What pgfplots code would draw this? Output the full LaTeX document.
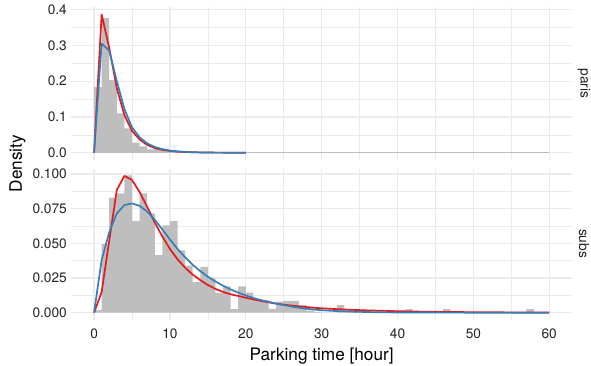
\documentclass[border=0pt]{standalone}
\usepackage{pgfplots}
\pgfplotsset{compat=1.18}
\usepackage{fontspec}
\setmainfont{TeX Gyre Heros}
\definecolor{histc}{HTML}{BEBEBE}
\definecolor{cred}{HTML}{E41A1C}
\definecolor{cblue}{HTML}{377EB8}
\definecolor{gridc}{HTML}{EBEBEB}
\definecolor{tickc}{HTML}{222222}

\pgfplotsset{
  panel/.style={
    scale only axis, width=500.7pt, xmin=-3, xmax=63,
    axis line style={draw=none}, tick style={draw=none},
    major tick length=0pt, minor tick length=0pt,
    xmajorgrids, ymajorgrids, xminorgrids, yminorgrids,
    major grid style={gridc, line width=1.2pt},
    minor grid style={gridc, line width=0.6pt},
    xtick={0,10,20,30,40,50,60}, minor xtick={5,15,25,35,45,55},
    /pgf/number format/assume math mode=true,
    tick label style={font=\fontsize{13.7}{16}\selectfont, text=tickc},
    yticklabel style={anchor=east, inner sep=0pt, xshift=-4.3pt},
    xticklabel style={anchor=north, inner sep=0pt, yshift=-9pt},
  },
  hist/.style={ybar interval, fill=histc, draw=none},
  redc/.style={cred, line width=1.7pt, line join=round},
  bluec/.style={cblue, line width=1.7pt, line join=round},
}

\begin{document}
\begin{tikzpicture}
\useasboundingbox (0,0) rectangle (591pt,365pt);

% ---------- top panel: paris ----------
\begin{axis}[panel, at={(71.3pt,205.3pt)}, anchor=south west, height=152.5pt,
  ymin=-0.0195, ymax=0.4065,
  ytick={0,0.1,0.2,0.3,0.4}, yticklabels={0.0,0.1,0.2,0.3,0.4},
  minor ytick={0.05,0.15,0.25,0.35},
  xticklabels={}]
\addplot[hist] coordinates {
(0,0.183) (1,0.376) (2,0.203) (3,0.110) (4,0.068) (5,0.028) (6,0.018)
(7,0.009) (8,0.012) (9,0.008) (10,0.006) (11,0.003) (12,0.002) (13,0.001) (14,0)};
\addplot[histc, line width=0.6pt] coordinates {(0,0) (60,0)};
\addplot[redc] coordinates {
(0,0) (1,0.386) (2,0.293) (3,0.180) (4,0.105) (5,0.061) (6,0.037) (7,0.022)
(8,0.013) (9,0.008) (10,0.005) (11,0.003) (12,0.002) (13,0.0013) (14,0.0008)
(15,0.0005) (16,0.0003) (17,0.0002) (18,0.0001) (19,0.0001) (20,0.0001)};
\addplot[bluec] coordinates {
(0,0) (1,0.305) (2,0.285) (3,0.200) (4,0.122) (5,0.071) (6,0.043) (7,0.026)
(8,0.016) (9,0.010) (10,0.006) (11,0.0037) (12,0.0023) (13,0.0014) (14,0.0009)
(15,0.0005) (16,0.0003) (17,0.0002) (18,0.0001) (19,0.0001) (20,0)};
\end{axis}

% ---------- bottom panel: subs ----------
\begin{axis}[panel, at={(71.3pt,45.4pt)}, anchor=south west, height=151.1pt,
  ymin=-0.00495, ymax=0.10395,
  ytick={0,0.025,0.05,0.075,0.1},
  yticklabels={0.000,0.025,0.050,0.075,0.100},
  minor ytick={0.0125,0.0375,0.0625,0.0875},
  xticklabels={0,10,20,30,40,50,60},
  xlabel={Parking time [hour]},
  xlabel style={at={(axis description cs:0.5,0)}, anchor=base, yshift=-40.8pt,
    inner sep=0pt, font=\fontsize{17.2}{20}\selectfont}]
\addplot[hist] coordinates {
(0,0.002) (1,0.0495) (2,0.083) (3,0.086) (4,0.099) (5,0.066) (6,0.086) (7,0.0716)
(8,0.0416) (9,0.063) (10,0.066) (11,0.045) (12,0.034) (13,0.022) (14,0.033)
(15,0.025) (16,0.0144) (17,0.019) (18,0.0026) (19,0.019) (20,0.0145) (21,0.009)
(22,0.009) (23,0.0027) (24,0.008) (25,0.0085) (26,0.0085) (27,0.0055) (28,0.0015)
(29,0.0007) (30,0) (31,0) (32,0.0055) (33,0.0026) (34,0.0026) (35,0) (36,0)
(37,0) (38,0) (39,0) (40,0) (41,0.0026) (42,0) (43,0) (44,0) (45,0) (46,0.0026)
(47,0) (48,0) (49,0) (50,0) (51,0) (52,0) (53,0) (54,0) (55,0) (56,0)
(57,0.0026) (58,0) (59,0) (60,0)};
\addplot[redc] coordinates {
(0,0) (1,0.015) (2,0.052) (3,0.0885) (4,0.0986) (5,0.0957) (6,0.087) (7,0.0764)
(8,0.065) (9,0.055) (10,0.046) (11,0.0385) (12,0.0325) (13,0.0275) (14,0.0235)
(15,0.0200) (16,0.0172) (17,0.0150) (18,0.0133) (19,0.0121) (20,0.0108)
(21,0.0096) (22,0.0085) (23,0.0075) (24,0.0066) (25,0.0058) (26,0.0052)
(27,0.0046) (28,0.0041) (29,0.0036) (30,0.0032) (32,0.0026) (34,0.0021)
(36,0.0017) (38,0.0014) (40,0.0011) (43,0.0008) (46,0.0006) (50,0.0004)
(55,0.00025) (60,0.00015)};
\addplot[bluec] coordinates {
(0,0) (1,0.038) (2,0.058) (3,0.0716) (4,0.0776) (5,0.0788) (6,0.077) (7,0.073)
(8,0.067) (9,0.060) (10,0.0528) (11,0.046) (12,0.040) (13,0.0345) (14,0.030)
(15,0.026) (16,0.0225) (17,0.0195) (18,0.0168) (19,0.0145) (20,0.0125)
(21,0.0106) (22,0.0091) (23,0.0078) (24,0.0066) (25,0.0055) (26,0.0045)
(27,0.0036) (28,0.0029) (29,0.0023) (30,0.0018) (32,0.0012) (34,0.0008)
(36,0.0005) (38,0.0003) (40,0.0002) (45,0.0001) (50,0.00005) (60,0)};
\end{axis}

% axis title and facet strips
\node[rotate=90, font=\fontsize{17.2}{20}\selectfont, inner sep=0pt] at (17.5pt,201.5pt) {Density};
\node[rotate=-90, font=\fontsize{13.7}{16}\selectfont, text=tickc, inner sep=0pt] at (584pt,281.5pt) {paris};
\node[rotate=-90, font=\fontsize{13.7}{16}\selectfont, text=tickc, inner sep=0pt] at (584pt,121.5pt) {subs};
\end{tikzpicture}
\end{document}
